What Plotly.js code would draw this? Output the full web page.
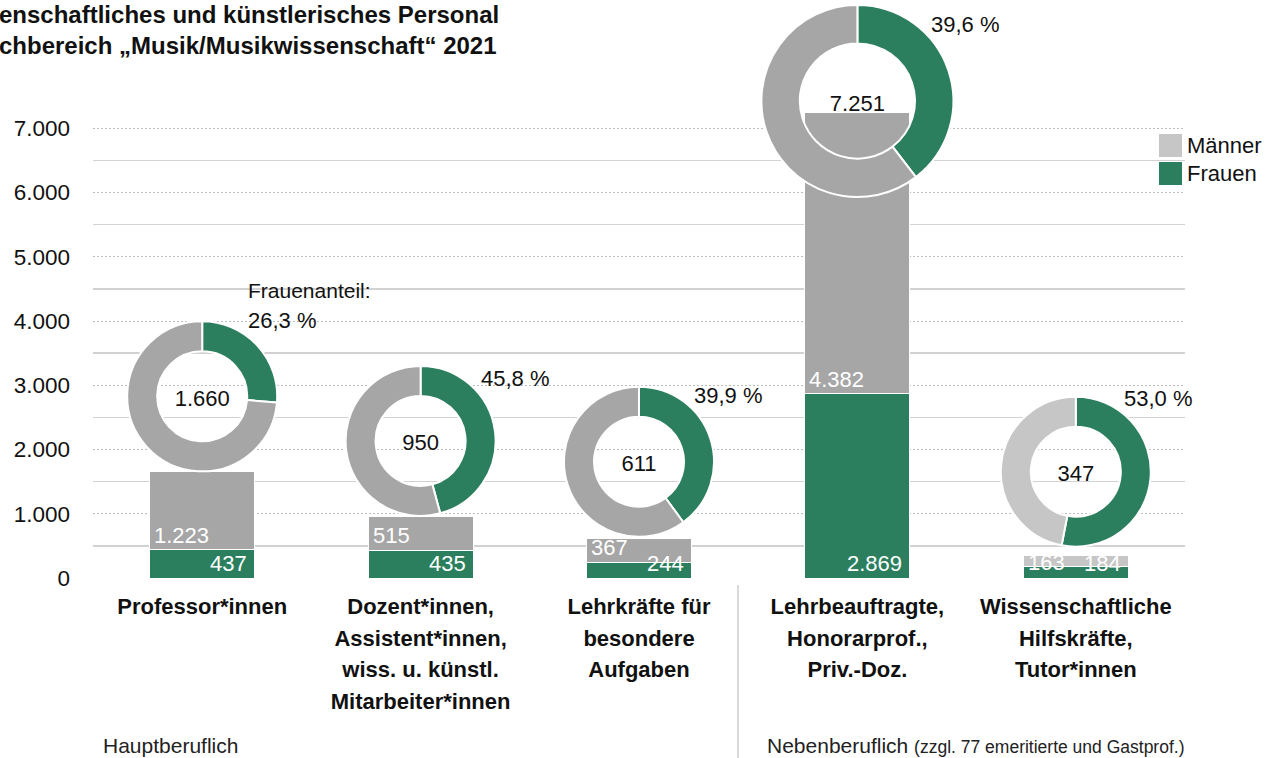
<!DOCTYPE html>
<html><head><meta charset="utf-8">
<script src="https://cdn.plot.ly/plotly-3.0.1.min.js"></script>
<style>html,body{margin:0;padding:0;background:#fff}#chart{width:1282px;height:758px}</style>
</head><body><div id="chart"></div>
<script>
// ---------------- data ----------------
const categories = [
  'Professor*innen',
  'Dozent*innen,<br>Assistent*innen,<br>wiss. u. künstl.<br>Mitarbeiter*innen',
  'Lehrkräfte für<br>besondere<br>Aufgaben',
  'Lehrbeauftragte,<br>Honorarprof.,<br>Priv.-Doz.',
  'Wissenschaftliche<br>Hilfskräfte,<br>Tutor*innen'
];
const frauen  = [437, 435, 244, 2869, 184];
const maenner = [1223, 515, 367, 4382, 163];
const seriesNames = ['Männer', 'Frauen'];
const shareLabel = 'Frauenanteil:';
const groupLabels = ['Hauptberuflich', 'Nebenberuflich'];
const groupNote = '(zzgl. 77 emeritierte und Gastprof.)';
// title as visible in the original (cut at the left edge)
const titleText = 'enschaftliches und künstlerisches Personal<br>chbereich „Musik/Musikwissenschaft“ 2021';

// ---------------- style / geometry ----------------
const W = 1282, H = 758;
const plotL = 93, plotR = 1185, plotT = 96, plotB = 578, yMax = 7500;
const GREEN = '#2b7f5e', GRAY = '#a6a6a6', LIGHT = '#c6c6c6', TXT = '#111111';
const FONT = 'Liberation Sans, Arial, sans-serif';
const maennerColors = [GRAY, GRAY, GRAY, GRAY, LIGHT];
const donutR = [75, 75, 75, 96, 75];          // px
const donutLift = [75, 76, 77, 11, 84];        // px from bar top up to donut centre
const pctOffset = [[44, -76], [58, -62], [53, -66], [72, -77], [46, -73]]; // px from donut centre
const grayLabelShift = [0, 0, 0, 0, -11];
const HOLE = 0.6;

const fmtInt = n => String(n).replace(/\B(?=(\d{3})+(?!\d))/g, '.');
const fmtPct = v => v.toFixed(1).replace('.', ',') + ' %';
const xPix = i => plotL + (i + 0.5) * (plotR - plotL) / categories.length;
const yPix = v => plotB - v * (plotB - plotT) / yMax;
const px2x = p => p / W;
const px2y = p => 1 - p / H;

const totals = frauen.map((f, i) => f + maenner[i]);

// ---------------- traces ----------------
const traces = [
  {type: 'bar', name: seriesNames[1], x: categories, y: frauen,
   marker: {color: GREEN, line: {color: '#ffffff', width: 1}}, width: 0.48,
   hoverinfo: 'skip', showlegend: false},
  {type: 'bar', name: seriesNames[0], x: categories, y: maenner,
   marker: {color: maennerColors, line: {color: '#ffffff', width: 1}}, width: 0.48,
   hoverinfo: 'skip', showlegend: false}
];

const shapes = [];
const annotations = [];

categories.forEach((c, i) => {
  const cx = xPix(i), cy = yPix(totals[i]) - donutLift[i], r = donutR[i];
  traces.push({
    type: 'pie', values: [frauen[i], maenner[i]], labels: [seriesNames[1], seriesNames[0]],
    marker: {colors: [GREEN, maennerColors[i]], line: {color: '#ffffff', width: 2}},
    hole: HOLE, sort: false, direction: 'clockwise', rotation: 0,
    textinfo: 'none', hoverinfo: 'skip', showlegend: false,
    domain: {x: [px2x(cx - r), px2x(cx + r)], y: [px2y(cy + r), px2y(cy - r)]},
    title: {text: fmtInt(totals[i]), position: 'middle center', font: {family: FONT, size: 22, color: TXT}}
  });
  const ri = r * HOLE;
  shapes.push({type: 'circle', xref: 'paper', yref: 'paper', layer: 'between',
    x0: px2x(cx - ri), x1: px2x(cx + ri), y0: px2y(cy + ri), y1: px2y(cy - ri),
    fillcolor: '#ffffff', line: {width: 0}});
  annotations.push({xref: 'paper', yref: 'paper', x: px2x(cx + pctOffset[i][0]), y: px2y(cy + pctOffset[i][1]),
    xanchor: 'left', yanchor: 'middle', showarrow: false, text: fmtPct(frauen[i] / totals[i] * 100),
    font: {family: FONT, size: 22, color: TXT}});
  if (i === 0) {
    annotations.push({xref: 'paper', yref: 'paper', x: px2x(cx + pctOffset[i][0]), y: px2y(cy + pctOffset[i][1] - 30),
      xanchor: 'left', yanchor: 'middle', showarrow: false, text: shareLabel,
      font: {family: FONT, size: 21, color: TXT}});
  }
  annotations.push({xref: 'x', yref: 'y', x: i, y: 0, xanchor: 'right', yanchor: 'bottom', xshift: 47,
    showarrow: false, text: fmtInt(frauen[i]), font: {family: FONT, size: 22, color: '#ffffff'}});
  annotations.push({xref: 'x', yref: 'y', x: i, y: frauen[i], xanchor: 'left', yanchor: 'bottom', xshift: -50,
    yshift: grayLabelShift[i], showarrow: false, text: fmtInt(maenner[i]),
    font: {family: FONT, size: 22, color: '#ffffff'}});
});

// title
annotations.push({xref: 'paper', yref: 'paper', x: px2x(-3), y: 1, xanchor: 'left', yanchor: 'top', align: 'left',
  yshift: 1, showarrow: false, text: titleText, font: {family: FONT, size: 24, color: TXT, weight: 'bold'}});

// legend
const legendItems = [[seriesNames[0], LIGHT, 134], [seriesNames[1], GREEN, 162]];
shapes.push({type: 'rect', xref: 'paper', yref: 'paper', layer: 'between',
  x0: px2x(1154), x1: px2x(1190), y0: px2y(190), y1: px2y(131), fillcolor: '#ffffff', line: {width: 0}});
legendItems.forEach(([name, col, top]) => {
  shapes.push({type: 'rect', xref: 'paper', yref: 'paper', x0: px2x(1159), x1: px2x(1182),
    y0: px2y(top + 23), y1: px2y(top), fillcolor: col, line: {width: 0}});
  annotations.push({xref: 'paper', yref: 'paper', x: px2x(1185), y: px2y(top + 11.5), xanchor: 'left', yanchor: 'middle',
    showarrow: false, text: name, font: {family: FONT, size: 22, color: TXT}});
});

// group labels + separator
shapes.push({type: 'line', xref: 'paper', yref: 'paper', x0: px2x(738), x1: px2x(738), y0: 0, y1: px2y(585),
  line: {color: '#d9d9d9', width: 2}});
annotations.push({xref: 'paper', yref: 'paper', x: px2x(101), y: px2y(745), xanchor: 'left', yanchor: 'middle',
  showarrow: false, text: groupLabels[0], font: {family: FONT, size: 21, color: '#222222'}});
annotations.push({xref: 'paper', yref: 'paper', x: px2x(765), y: px2y(745), xanchor: 'left', yanchor: 'middle',
  showarrow: false, text: groupLabels[1] + ' <span style="font-size:17.5px">' + groupNote + '</span>',
  font: {family: FONT, size: 21, color: '#222222'}});

// tick labels: 22px glyphs with the original's wider line spacing
const tickText = categories.map(c => c.split('<br>').map(l => '<span style="font-size:22px">' + l + '</span>').join('<br>'));

const layout = {
  width: W, height: H, margin: {l: 0, r: 0, t: 0, b: 0},
  paper_bgcolor: '#ffffff', plot_bgcolor: 'rgba(0,0,0,0)',
  separators: ',.', barmode: 'stack', showlegend: false,
  font: {family: FONT, color: TXT},
  xaxis: {domain: [px2x(plotL), px2x(plotR)], type: 'category', range: [-0.5, 4.5], showgrid: false,
    zeroline: false, showline: false, ticks: '', tickvals: categories, ticktext: tickText,
    tickfont: {family: FONT, size: 24.3, color: TXT, weight: 'bold'}, ticklabelstandoff: 11},
  yaxis: {domain: [px2y(plotB), px2y(plotT)], range: [0, yMax + 2], dtick: 1000, tick0: 0,
    tickformat: ',d', showgrid: true, gridcolor: '#bdbdbd', gridwidth: 1, griddash: '2px,2px',
    zeroline: false, showline: false, ticks: '', ticklabelstandoff: 22,
    tickfont: {family: FONT, size: 22.5, color: TXT},
    minor: {tick0: 500, dtick: 1000, showgrid: true, gridcolor: '#d2d2d2', gridwidth: 1.3, griddash: 'solid', ticks: ''}},
  shapes: shapes, annotations: annotations
};

Plotly.newPlot('chart', traces, layout, {displayModeBar: false, staticPlot: true});
</script></body></html>
